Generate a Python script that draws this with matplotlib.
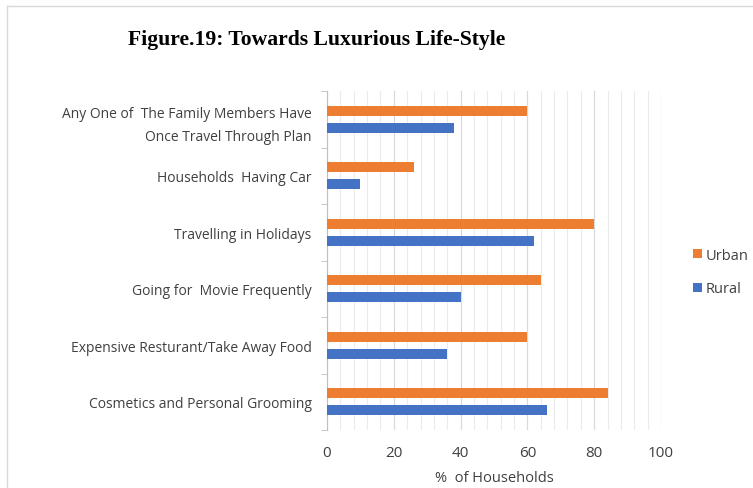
import numpy as np
import matplotlib.pyplot as plt
from matplotlib.lines import Line2D
from matplotlib.ticker import MultipleLocator

# ================= DATA =================
categories = [
    "Cosmetics and Personal Grooming",
    "Expensive Resturant/Take Away Food",
    "Going for  Movie Frequently",
    "Travelling in Holidays",
    "Households  Having Car",
    "Any One of  The Family Members Have\nOnce Travel Through Plan",
]
urban = [84, 60, 64, 80, 26, 60]
rural = [66, 36, 40, 62, 10, 38]
x_ticks = [0, 20, 40, 60, 80, 100]

ORANGE = "#ED7D31"
BLUE = "#4472C4"
TEXT = "#404040"
# ========================================

plt.rcParams['font.family'] = ['Open Sans', 'DejaVu Sans']

fig = plt.figure(figsize=(7.53, 4.89), dpi=100)
ax = fig.add_axes([327 / 753, 1 - 431 / 489, 334 / 753, 339 / 489])

y = np.arange(len(categories))
h = 0.177
off = 0.153
ax.barh(y + off, urban, height=h, color=ORANGE, label="Urban", zorder=3)
ax.barh(y - off, rural, height=h, color=BLUE, label="Rural", zorder=3)

ax.set_xlim(0, 100)
ax.set_ylim(-0.5, len(categories) - 0.5)
ax.set_xticks(x_ticks)
ax.xaxis.set_minor_locator(MultipleLocator(4))
ax.grid(True, axis='x', which='major', color='#d9d9d9', linewidth=0.9, zorder=0)
ax.grid(True, axis='x', which='minor', color='#ebebeb', linewidth=0.8, zorder=0)
ax.tick_params(axis='x', which='both', length=0, labelsize=11, colors=TEXT, pad=11)

ax.set_yticks(y)
ax.set_yticklabels(categories, fontsize=10, color=TEXT, linespacing=1.75)
ax.set_yticks(np.arange(-0.5, len(categories), 1), minor=True)
ax.tick_params(axis='y', which='major', length=0, pad=11)
ax.tick_params(axis='y', which='minor', length=4, color='#bfbfbf')

for s in ['top', 'right', 'bottom']:
    ax.spines[s].set_visible(False)
ax.spines['left'].set_color('#bfbfbf')

ax.set_xlabel("%  of Households", fontsize=10.5, color=TEXT, labelpad=7)

handles, labels = ax.get_legend_handles_labels()
leg = fig.legend(handles, labels, loc='center left', bbox_to_anchor=(680 / 753, 1 - 273 / 489),
                 frameon=False, fontsize=10.5, handlelength=0.6, handleheight=0.6,
                 handletextpad=0.25, labelspacing=1.3, labelcolor=TEXT)

fig.text(128 / 753, 1 - 40 / 489, "Figure.19: Towards Luxurious Life-Style",
         fontsize=15.6, fontweight='bold', family='Liberation Serif',
         ha='left', va='center', color='black')

# light frame around the chart area
fig.add_artist(Line2D([7 / 753, 1], [1 - 7 / 489] * 2, color='#d9d9d9', linewidth=1))
fig.add_artist(Line2D([7 / 753] * 2, [0, 1 - 7 / 489], color='#d9d9d9', linewidth=1))

plt.savefig("out.png", dpi=100)
plt.close()
